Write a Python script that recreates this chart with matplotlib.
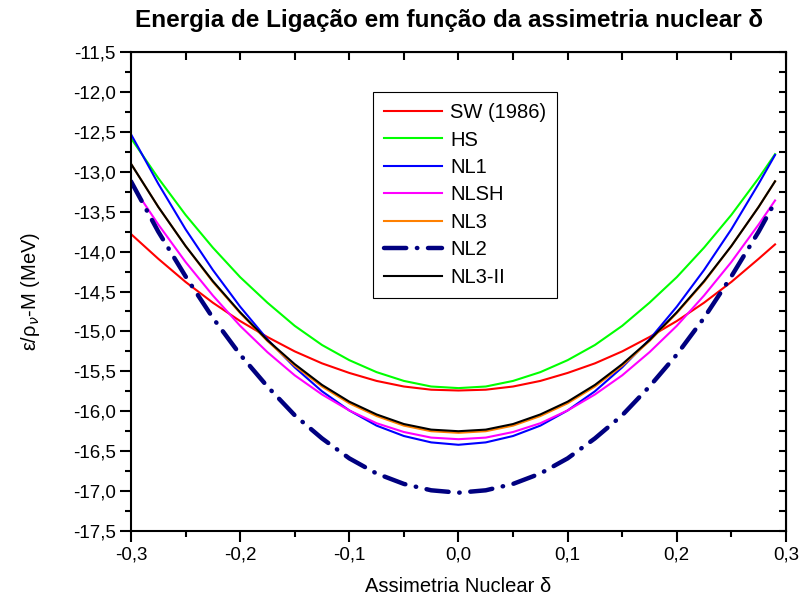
import numpy as np
import matplotlib
matplotlib.use('Agg')
import matplotlib.pyplot as plt
from matplotlib.ticker import MultipleLocator, FuncFormatter

plt.rcParams['font.family'] = ['Liberation Sans', 'DejaVu Sans']

# assimetria nuclear (delta)
delta = [-0.300, -0.275, -0.250, -0.225, -0.200, -0.175, -0.150, -0.125, -0.100, -0.075, -0.050, -0.025,
         0.000, 0.025, 0.050, 0.075, 0.100, 0.125, 0.150, 0.175, 0.200, 0.225, 0.250, 0.275, 0.290]

# energia de ligacao (MeV)
sw86 = [-13.78, -14.09, -14.38, -14.64, -14.87, -15.07, -15.25, -15.40, -15.52, -15.62, -15.69, -15.73,
        -15.74, -15.73, -15.69, -15.62, -15.52, -15.40, -15.25, -15.07, -14.87, -14.64, -14.38, -14.09, -13.91]
hs = [-12.58, -13.08, -13.54, -13.95, -14.32, -14.64, -14.93, -15.17, -15.36, -15.51, -15.62, -15.69,
      -15.71, -15.69, -15.62, -15.51, -15.36, -15.17, -14.93, -14.64, -14.32, -13.95, -13.54, -13.08, -12.78]
nl1 = [-12.53, -13.15, -13.72, -14.23, -14.69, -15.10, -15.45, -15.75, -15.99, -16.18, -16.31, -16.39,
       -16.42, -16.39, -16.31, -16.18, -15.99, -15.75, -15.45, -15.10, -14.69, -14.23, -13.72, -13.15, -12.79]
nlsh = [-13.15, -13.66, -14.13, -14.55, -14.93, -15.26, -15.55, -15.79, -15.99, -16.15, -16.26, -16.33,
        -16.35, -16.33, -16.26, -16.15, -15.99, -15.79, -15.55, -15.26, -14.93, -14.55, -14.13, -13.66, -13.36]
nl3 = [-12.90, -13.44, -13.93, -14.38, -14.77, -15.12, -15.43, -15.69, -15.90, -16.06, -16.18, -16.25,
       -16.27, -16.25, -16.18, -16.06, -15.90, -15.69, -15.43, -15.12, -14.77, -14.38, -13.93, -13.44, -13.12]
nl2 = [-13.12, -13.75, -14.31, -14.83, -15.29, -15.69, -16.05, -16.34, -16.59, -16.78, -16.91, -16.99,
       -17.02, -16.99, -16.91, -16.78, -16.59, -16.34, -16.05, -15.69, -15.29, -14.83, -14.31, -13.75, -13.38]
nl3ii = [-12.90, -13.44, -13.93, -14.37, -14.76, -15.11, -15.41, -15.67, -15.88, -16.04, -16.16, -16.23,
         -16.25, -16.23, -16.16, -16.04, -15.88, -15.67, -15.41, -15.11, -14.76, -14.37, -13.93, -13.44, -13.12]

fig = plt.figure(figsize=(8.02, 5.99), dpi=100)
ax = fig.add_axes([0.1633, 0.1135, 0.8167, 0.7997])

ax.plot(delta, sw86, color='#ff0000', lw=1.5, label='SW (1986)')
ax.plot(delta, hs, color='#00ff00', lw=1.5, label='HS')
ax.plot(delta, nl1, color='#0000ff', lw=1.5, label='NL1')
ax.plot(delta, nlsh, color='#ff00ff', lw=1.5, label='NLSH')
ax.plot(delta, nl3, color='#ff8000', lw=1.5, label='NL3')
ax.plot(delta, nl2, color='#000080', lw=3.2, linestyle=(0, (5, 2.4, 0.1, 2.4)),
        dash_capstyle='round', label='NL2')
ax.plot(delta, nl3ii, color='#000000', lw=1.5, label='NL3-II')

ax.set_xlim(-0.3, 0.3)
ax.set_ylim(-17.5, -11.5)

virgula = FuncFormatter(lambda v, p: ('%.1f' % v).replace('.', ',').replace('-0,0', '0,0'))
ax.xaxis.set_major_locator(MultipleLocator(0.1))
ax.xaxis.set_minor_locator(MultipleLocator(0.05))
ax.yaxis.set_major_locator(MultipleLocator(0.5))
ax.yaxis.set_minor_locator(MultipleLocator(0.25))
ax.xaxis.set_major_formatter(virgula)
ax.yaxis.set_major_formatter(virgula)
ax.tick_params(which='both', direction='out', width=1.5, labelsize=13.5)
ax.tick_params(which='major', length=8, pad=3)
ax.tick_params(which='minor', length=4.5)
for s in ax.spines.values():
    s.set_linewidth(1.5)

# eixos de cima e da direita com ticks para dentro
top = ax.secondary_xaxis('top')
top.xaxis.set_major_locator(MultipleLocator(0.05))
top.tick_params(direction='in', length=5.5, width=1.5, labeltop=False)
right = ax.secondary_yaxis('right')
right.yaxis.set_major_locator(MultipleLocator(0.25))
right.tick_params(direction='in', length=5, width=1.5, labelright=False)

ax.set_xlabel('Assimetria Nuclear δ', fontsize=14.5, labelpad=10)
ax.set_ylabel(r'ε/ρ$_\nu$-M (MeV)', fontsize=14.5, labelpad=22)
fig.text(0.56, 0.965, 'Energia de Ligação em função da assimetria nuclear δ',
         fontsize=17.5, fontweight='bold', ha='center', va='center')

leg = ax.legend(loc='upper left', bbox_to_anchor=(0.369, 0.9165), fontsize=14.5,
                handlelength=2.9, handletextpad=0.4, labelspacing=0.42, borderpad=0.55,
                fancybox=False, framealpha=1, edgecolor='black', borderaxespad=0)
leg.get_frame().set_linewidth(0.8)

fig.savefig('out.png', dpi=100)
